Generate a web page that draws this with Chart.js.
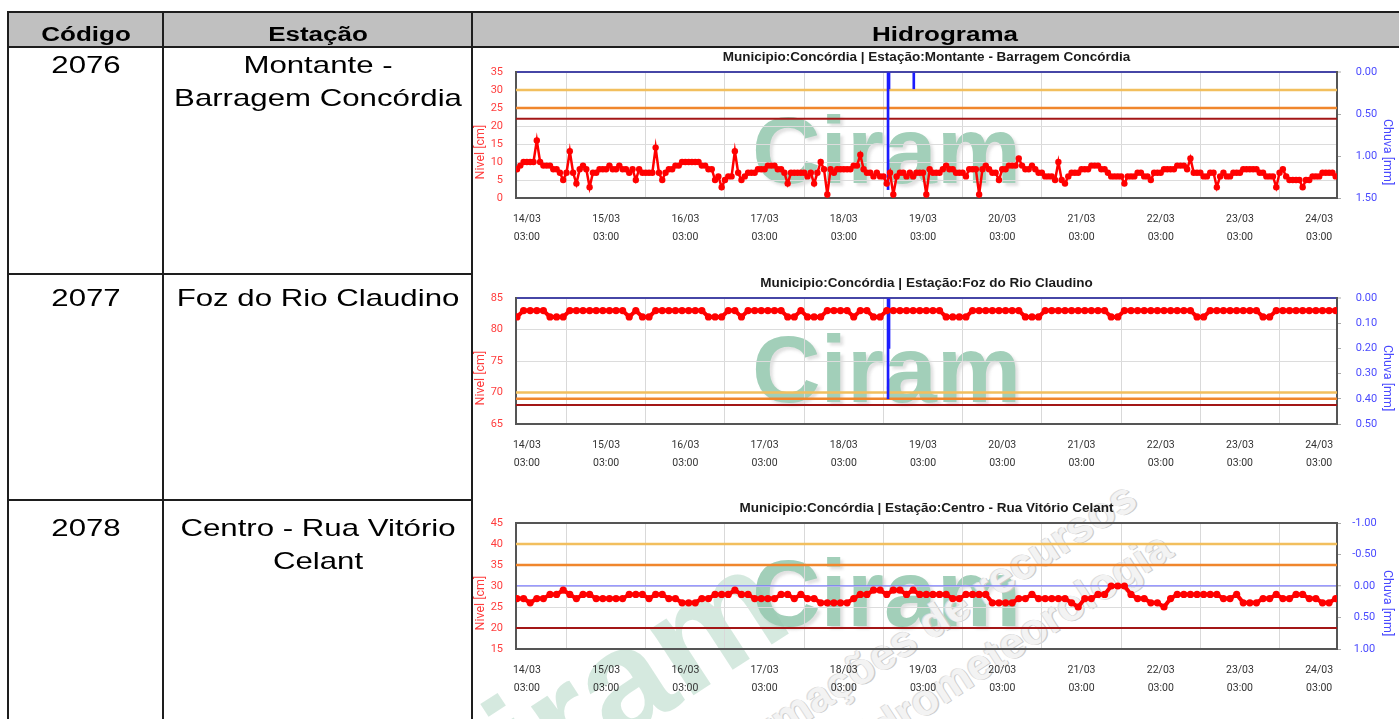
<!DOCTYPE html>
<html lang="pt-BR">
<head>
<meta charset="utf-8">
<title>Hidrograma</title>
<script src="https://cdn.jsdelivr.net/npm/chart.js@4.4.1/dist/chart.umd.min.js"></script>
<style>
  html, body { margin:0; padding:0; background:#fff; }
  body { position:relative; width:1399px; height:719px; overflow:hidden; font-family:"Liberation Sans", Arial, sans-serif; color:#000; }
  .box { position:absolute; }
  .ln { position:absolute; background:#1e1e1e; z-index:3; }
  .t { position:absolute; white-space:nowrap; text-align:center; transform:scaleX(1.3); transform-origin:50% 50%; z-index:3; }
  .hd { font-weight:bold; font-size:20px; line-height:20px; }
  .rw { font-size:24px; line-height:32.5px; }
  .wm { position:absolute; font-family:"Liberation Sans", Arial, sans-serif; font-weight:bold; font-size:95px; line-height:95px; color:#a2cfb9; text-shadow:3px 3px 3px rgba(90,90,90,0.18); white-space:nowrap; z-index:1; }
  .dg { position:absolute; font-family:"Liberation Sans", Arial, sans-serif; font-weight:bold; white-space:nowrap; z-index:1; }
  .cv { position:absolute; z-index:2; }
</style>
</head>
<body>
<!-- table -->
<div class="box" style="left:8px;top:12px;width:1391px;height:35px;background:#c0c0c0;"></div>
<div class="ln" style="left:7px;top:11px;width:1392px;height:2px;"></div>
<div class="ln" style="left:7px;top:46px;width:1392px;height:2px;"></div>
<div class="ln" style="left:7px;top:11px;width:2px;height:708px;"></div>
<div class="ln" style="left:162px;top:11px;width:2px;height:708px;"></div>
<div class="ln" style="left:471px;top:11px;width:2px;height:708px;"></div>
<div class="ln" style="left:7px;top:273px;width:466px;height:2px;"></div>
<div class="ln" style="left:7px;top:499px;width:466px;height:2px;"></div>

<div class="t hd" style="left:-14.5px;top:24px;width:200px;">Código</div>
<div class="t hd" style="left:167.5px;top:24px;width:300px;">Estação</div>
<div class="t hd" style="left:795px;top:24px;width:300px;">Hidrograma</div>

<div class="t rw" style="left:-14.5px;top:49.4px;width:200px;">2076</div>
<div class="t rw" style="left:167.5px;top:49.4px;width:300px;">Montante -<br>Barragem Concórdia</div>
<div class="t rw" style="left:-14.5px;top:282.4px;width:200px;">2077</div>
<div class="t rw" style="left:167.5px;top:282.4px;width:300px;">Foz do Rio Claudino</div>
<div class="t rw" style="left:-14.5px;top:512.4px;width:200px;">2078</div>
<div class="t rw" style="left:167.5px;top:512.4px;width:300px;">Centro - Rua Vitório<br>Celant</div>

<!-- watermarks -->
<div class="wm" style="left:752px;top:102.6px;">Ciram</div>
<div class="wm" style="left:752px;top:321.6px;">Ciram</div>
<div class="wm" style="left:752px;top:545.6px;">Ciram</div>
<div class="dg" style="left:440px;top:733px;font-size:150px;line-height:150px;color:rgba(150,200,175,0.40);transform-origin:0 127px;transform:rotate(-33deg);">Ciram</div>
<div class="dg" style="left:440px;top:467.7px;width:700px;text-align:right;font-size:44px;line-height:44px;color:#f3f3f3;text-shadow:1px 1px 0 #cccccc,-1px -1px 0 #dddddd;transform-origin:700px 37.3px;transform:rotate(-33deg);">Informações de recursos</div>
<div class="dg" style="left:475px;top:517.7px;width:700px;text-align:right;font-size:44px;line-height:44px;color:#f3f3f3;text-shadow:1px 1px 0 #cccccc,-1px -1px 0 #dddddd;transform-origin:700px 37.3px;transform:rotate(-33deg);">hidrometeorologia</div>

<div class="cv" style="left:472px;top:46px;width:927px;height:202px;"><canvas id="c1" width="927" height="202"></canvas></div>
<div class="cv" style="left:472px;top:272px;width:927px;height:202px;"><canvas id="c2" width="927" height="202"></canvas></div>
<div class="cv" style="left:472px;top:497px;width:927px;height:202px;"><canvas id="c3" width="927" height="202"></canvas></div>

<script>
// ---- tick labels / categories ----
const dayLabels = ['14/03','15/03','16/03','17/03','18/03','19/03','20/03','21/03','22/03','23/03','24/03'];
const hourLabel = '03:00';
const dayTicks = [0,24,48,72,96,120,144,168,192,216,240]; // hours after 14/03 03:00
const xMin = -3.3, xMax = 245.4;

// ---- 2076 Montante - Barragem Concórdia : nível [cm], hourly from -3 h ----
const tStartMontante = -3, tStepMontante = 1;
const nivelMontante = [
  8,9,10,10,10,10,16,10,9,9,
  9,8,8,7,5,7,13,7,4,8,
  9,8,3,7,7,8,8,8,9,8,
  8,9,8,8,7,8,5,8,7,7,
  7,7,14,7,5,7,8,8,9,9,
  10,10,10,10,10,10,9,9,8,8,
  5,6,3,5,6,6,13,7,5,6,
  7,7,7,8,8,8,9,9,9,8,
  8,7,4,7,7,7,7,7,6,7,
  4,7,10,8,1,8,7,8,8,8,
  8,8,9,9,12,8,7,7,6,7,
  6,6,4,7,1,6,7,7,6,7,
  6,7,7,7,1,8,7,7,7,8,
  9,8,8,7,7,7,6,8,8,8,
  1,8,9,8,7,7,5,8,8,9,
  9,9,11,9,8,8,9,8,7,7,
  6,6,6,5,10,5,4,6,7,7,
  7,8,8,8,9,9,9,8,8,7,
  6,6,6,6,4,6,6,6,7,7,
  6,6,5,7,7,7,8,8,8,8,
  9,9,9,8,11,7,7,7,6,6,
  7,7,3,6,7,6,6,7,7,7,
  8,8,8,8,8,7,7,6,6,6,
  3,7,8,6,5,5,5,5,3,5,
  5,6,6,6,7,7,7,7,6
];
const chuvaMontanteT = [109.4, 109.7, 117.2];
const chuvaMontanteV = [1.4, 0.2, 0.2];
const cotasMontante = [30, 25, 22];

// ---- 2077 Foz do Rio Claudino : every 2 h from -3 h ----
const tStartFoz = -3, tStepFoz = 2;
const nivelFoz = [
  82,83,83,83,83,82,82,82,83,83,
  83,83,83,83,83,83,83,82,83,82,
  82,83,83,83,83,83,83,83,83,82,
  82,82,83,83,82,83,83,83,83,83,
  83,82,82,83,82,82,82,83,83,83,
  83,82,83,83,82,82,83,83,83,83,
  83,83,83,83,83,82,82,82,82,83,
  83,83,83,83,83,83,83,82,82,82,
  83,83,83,83,83,83,83,83,83,83,
  82,82,83,83,83,83,83,83,83,83,
  83,83,83,82,82,83,83,83,83,83,
  83,83,83,82,82,83,83,83,83,83,
  83,83,83,83,83
];
const chuvaFozT = [109.4, 109.7];
const chuvaFozV = [0.4, 0.2];
const cotasFoz = [70, 69, 68];

// ---- 2078 Centro - Rua Vitório Celant : every 2 h from -3 h ----
const tStartCentro = -3, tStepCentro = 2;
const nivelCentro = [
  27,27,26,27,27,28,28,29,28,27,
  28,28,27,27,27,27,27,28,28,28,
  27,28,28,27,27,26,26,26,27,27,
  28,28,28,29,28,28,27,27,27,27,
  28,28,27,28,27,27,26,26,26,26,
  26,27,28,28,29,29,28,29,29,28,
  29,28,28,28,28,28,27,27,28,28,
  28,28,26,26,26,26,27,27,28,27,
  27,27,27,27,26,25,27,27,28,28,
  30,30,30,28,27,27,26,26,25,27,
  28,28,28,28,28,28,28,27,27,28,
  26,26,26,27,27,28,27,27,28,28,
  27,27,26,26,27
];
const chuvaCentroT = [];
const chuvaCentroV = [];
const cotasCentro = [40, 35, 20];

const cotaNames = ['Cota 1', 'Cota 2', 'Cota 3'];
const cotaColors = ['#f2bf5e', '#f0862c', '#a31616'];
const cotaWidths = [2.5, 2.5, 2];

function build(id, o) {
  const nivelPts = o.nivel.map((v, i) => ({ x: o.t0 + i * o.dt, y: v }));
  const chuvaPts = o.chuvaT.map((t, i) => ({ x: t, y: o.chuvaV[i] }));
  const datasets = [
    { type: 'line', label: 'Nível', data: nivelPts, yAxisID: 'y', borderColor: '#ff0000', backgroundColor: '#ff0000',
      borderWidth: o.lw, pointRadius: o.pr, pointBorderWidth: 0, pointHoverRadius: o.pr, tension: 0, order: 0 },
    { type: 'bar', label: 'Chuva', data: chuvaPts, yAxisID: 'y2', backgroundColor: '#1c1cff', barThickness: 2, order: 1 }
  ];
  o.cotas.forEach((c, k) => datasets.push({
    type: 'line', label: cotaNames[k], data: [{ x: xMin, y: c }, { x: xMax, y: c }], yAxisID: 'y',
    borderColor: cotaColors[k], borderWidth: cotaWidths[k], pointRadius: 0, order: 2 + k
  }));
  const isZero = (c) => c.tick && Math.abs(c.tick.value) < 1e-9;
  new Chart(document.getElementById(id), {
    type: 'line',
    data: { datasets },
    options: {
      responsive: false, animation: false, events: [],
      layout: { padding: 0 },
      plugins: {
        legend: { display: false }, tooltip: { enabled: false },
        title: { display: true, text: o.title, fullSize: false, color: '#1a1a1a',
          font: { family: '"Liberation Sans", Arial, sans-serif', size: 13.5, weight: 'bold', lineHeight: 1.2 },
          padding: { top: 3, bottom: 6.8 } }
      },
      scales: {
        x: {
          type: 'linear', position: 'bottom', min: xMin, max: xMax, offset: false,
          afterBuildTicks: (s) => { s.ticks = dayTicks.map(v => ({ value: v })); },
          afterFit: (s) => { s.height = 50; },
          ticks: { autoSkip: false, maxRotation: 0, padding: 12, color: '#333',
            font: { family: 'Roboto', size: 10.5, lineHeight: 1.714 },
            callback: (v, i) => [dayLabels[i], hourLabel] },
          grid: { color: '#d9d9d9', lineWidth: 1, drawTicks: false },
          border: { display: true, color: '#555', width: 2 }
        },
        y: {
          type: 'linear', position: 'left', min: o.yMin, max: o.yMax,
          afterFit: (s) => { s.width = 44; },
          ticks: { stepSize: o.yStep, color: '#ff3d3d', padding: 13, font: { family: 'Roboto', size: 11 } },
          grid: { drawTicks: false,
            color: (c) => (c.tick && c.tick.value === o.yMax) ? o.topColor : '#dcdcdc',
            lineWidth: (c) => (c.tick && c.tick.value === o.yMax) ? 2 : 1 },
          border: { display: true, color: '#555', width: 2 },
          title: { display: true, text: 'Nivel [cm]' + '           ', color: '#ff3d3d',
            font: { family: 'Roboto', size: 12.5 }, padding: { top: 1, bottom: 0 } }
        },
        y2: {
          type: 'linear', position: 'right', reverse: true, min: o.rMin, max: o.rMax,
          afterFit: (s) => { s.width = 62; },
          ticks: { stepSize: o.rStep, color: '#4a4aff', padding: o.rPad, crossAlign: o.rAlign,
            font: { family: 'Roboto', size: 11 }, callback: (v) => Number(v).toFixed(2) },
          grid: { drawOnChartArea: true, drawTicks: true, tickLength: 4, tickWidth: 1, tickColor: '#aaaaaa',
            color: (c) => isZero(c) ? o.zeroColor : 'rgba(0,0,0,0)',
            lineWidth: (c) => isZero(c) ? o.zeroWidth : 1 },
          border: { display: true, color: '#555', width: 2 },
          title: { display: true, text: '           ' + 'Chuva [mm]', color: '#4a4aff',
            font: { family: 'Roboto', size: 12.5 }, padding: { top: 4.8, bottom: 0 } }
        }
      }
    }
  });
}

build('c1', {
  title: 'Municipio:Concórdia | Estação:Montante - Barragem Concórdia',
  nivel: nivelMontante, t0: tStartMontante, dt: tStepMontante,
  chuvaT: chuvaMontanteT, chuvaV: chuvaMontanteV, cotas: cotasMontante,
  yMin: 0, yMax: 35, yStep: 5, rMin: 0, rMax: 1.5, rStep: 0.5, rPad: 14.7, rAlign: 'near',
  topColor: '#4646a6', zeroColor: '#4646a6', zeroWidth: 2, lw: 2.5, pr: 3.2
});
build('c2', {
  title: 'Municipio:Concórdia | Estação:Foz do Rio Claudino',
  nivel: nivelFoz, t0: tStartFoz, dt: tStepFoz,
  chuvaT: chuvaFozT, chuvaV: chuvaFozV, cotas: cotasFoz,
  yMin: 65, yMax: 85, yStep: 5, rMin: 0, rMax: 0.5, rStep: 0.1, rPad: 14.7, rAlign: 'near',
  topColor: '#4646a6', zeroColor: '#4646a6', zeroWidth: 2, lw: 4, pr: 3.6
});
build('c3', {
  title: 'Municipio:Concórdia | Estação:Centro - Rua Vitório Celant',
  nivel: nivelCentro, t0: tStartCentro, dt: tStepCentro,
  chuvaT: chuvaCentroT, chuvaV: chuvaCentroV, cotas: cotasCentro,
  yMin: 15, yMax: 45, yStep: 5, rMin: -1, rMax: 1, rStep: 0.5, rPad: 11.2, rAlign: 'center',
  topColor: '#555555', zeroColor: 'rgba(120,120,255,0.75)', zeroWidth: 1.5, lw: 4, pr: 3.6
});
</script>
</body>
</html>
